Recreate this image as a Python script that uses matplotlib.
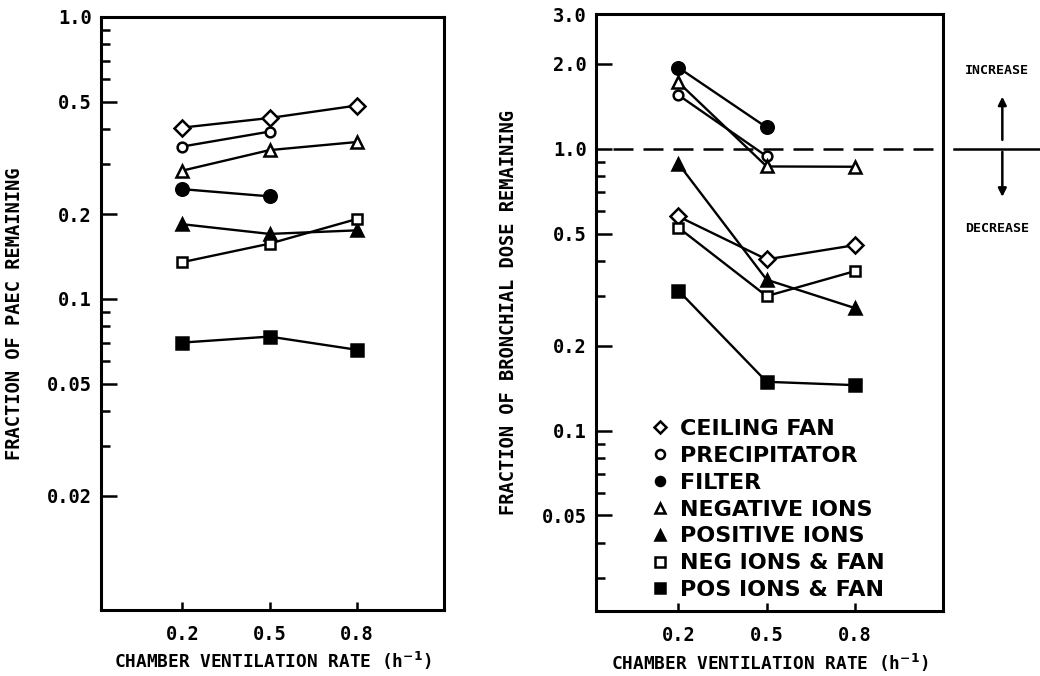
import numpy as np
import matplotlib
matplotlib.use('Agg')
import matplotlib.pyplot as plt
from matplotlib.lines import Line2D

# ventilation rates (h^-1)
rates = [0.2, 0.5, 0.8]

series_names = ['CEILING FAN', 'PRECIPITATOR', 'FILTER', 'NEGATIVE IONS',
                'POSITIVE IONS', 'NEG IONS & FAN', 'POS IONS & FAN']

# left panel: fraction of PAEC remaining
paec_ceiling_fan = [0.405, 0.438, 0.485]
paec_precipitator = [0.347, 0.392]
paec_filter = [0.245, 0.231]
paec_neg_ions = [0.285, 0.337, 0.360]
paec_pos_ions = [0.184, 0.170, 0.175]
paec_neg_fan = [0.135, 0.157, 0.192]
paec_pos_fan = [0.070, 0.0735, 0.066]

# right panel: fraction of bronchial dose remaining
dose_ceiling_fan = [0.575, 0.405, 0.455]
dose_precipitator = [1.55, 0.94]
dose_filter = [1.94, 1.19]
dose_neg_ions = [1.72, 0.865, 0.863]
dose_pos_ions = [0.885, 0.343, 0.272]
dose_neg_fan = [0.525, 0.300, 0.368]
dose_pos_fan = [0.314, 0.149, 0.145]

left_ticks = [1.0, 0.5, 0.2, 0.1, 0.05, 0.02]
left_ticklabels = ['1.0', '0.5', '0.2', '0.1', '0.05', '0.02']
right_ticks = [3.0, 2.0, 1.0, 0.5, 0.2, 0.1, 0.05]
right_ticklabels = ['3.0', '2.0', '1.0', '0.5', '0.2', '0.1', '0.05']
minor_ticks = [0.9, 0.8, 0.7, 0.6, 0.4, 0.3, 0.09, 0.08, 0.07, 0.06, 0.04, 0.03]

# marker, filled?
styles = [('D', False), ('o', False), ('o', True), ('^', False),
          ('^', True), ('s', False), ('s', True)]
msizes = [8, 7, 9, 8, 9, 7.5, 8]

MONO = 'DejaVu Sans Mono'


def draw_series(ax, data):
    for vals, (mk, filled), ms in zip(data, styles, msizes):
        x = rates[:len(vals)]
        ax.plot(x, vals, color='black', lw=1.7, marker=mk, ms=ms,
                mfc='black' if filled else 'white', mec='black', mew=1.8,
                zorder=3)


def style_axes(ax, ylim, ticks, labels, ylabel):
    ax.set_yscale('log')
    ax.set_ylim(*ylim)
    ax.set_xlim(-0.08, 1.1)
    ax.set_yticks(ticks)
    ax.set_yticklabels(labels)
    ax.set_yticks([m for m in minor_ticks if ylim[0] < m < ylim[1]], minor=True)
    ax.yaxis.set_minor_formatter(plt.NullFormatter())
    ax.set_xticks(rates)
    ax.set_xticklabels(['0.2', '0.5', '0.8'])
    for s in ax.spines.values():
        s.set_linewidth(2.2)
    ax.tick_params(axis='y', which='major', direction='in', length=11.5,
                   width=1.8, pad=6.5, labelsize=13.5)
    ax.tick_params(axis='y', which='minor', direction='in', length=6.5, width=1.8)
    ax.tick_params(axis='x', direction='in', length=6, width=1.8, pad=11,
                   labelsize=13.5)
    ax.tick_params(right=False, top=False)
    for lab in ax.get_xticklabels() + ax.get_yticklabels():
        lab.set_family(MONO)
        lab.set_fontweight('bold')
    ax.set_ylabel(ylabel, family=MONO, fontweight='bold', fontsize=13.5)
    ax.set_xlabel(r'CHAMBER VENTILATION RATE (h$^{\mathbf{-1}}$)', family=MONO,
                  fontweight='bold', fontsize=12.8)
    ax.xaxis.label.set_va('center')
    ax.yaxis.set_label_coords(-0.225, 0.5)
    ax.xaxis.set_label_coords(0.5, -0.087)


fig = plt.figure(figsize=(10.4, 6.76), dpi=100)
ax1 = fig.add_axes([0.097, 0.098, 0.330, 0.877])
ax2 = fig.add_axes([0.573, 0.096, 0.334, 0.883])

draw_series(ax1, [paec_ceiling_fan, paec_precipitator, paec_filter, paec_neg_ions,
                  paec_pos_ions, paec_neg_fan, paec_pos_fan])
style_axes(ax1, (0.0079, 1.0), left_ticks, left_ticklabels,
           'FRACTION OF PAEC REMAINING')

draw_series(ax2, [dose_ceiling_fan, dose_precipitator, dose_filter, dose_neg_ions,
                  dose_pos_ions, dose_neg_fan, dose_pos_fan])
style_axes(ax2, (0.0229, 3.0), right_ticks, right_ticklabels,
           'FRACTION OF BRONCHIAL DOSE REMAINING')

# reference line at 1.0 and the increase/decrease note
ax2.plot([0.05, 1.0], [1.0, 1.0], transform=ax2.get_yaxis_transform(),
         color='black', lw=1.8, ls=(0, (8, 4)), zorder=2)
ax2.plot([1.03, 1.28], [1.0, 1.0], transform=ax2.get_yaxis_transform(),
         color='black', lw=1.8, clip_on=False)
ax2.annotate('', xy=(1.17, 1.53), xytext=(1.17, 1.075),
             xycoords=ax2.get_yaxis_transform(),
             arrowprops=dict(arrowstyle='-|>', color='black', lw=1.8,
                             mutation_scale=12, shrinkA=0, shrinkB=0))
ax2.annotate('', xy=(1.17, 0.675), xytext=(1.17, 0.975),
             xycoords=ax2.get_yaxis_transform(),
             arrowprops=dict(arrowstyle='-|>', color='black', lw=1.8,
                             mutation_scale=12, shrinkA=0, shrinkB=0))
ax2.text(1.155, 1.89, 'INCREASE', transform=ax2.get_yaxis_transform(),
         ha='center', va='center', family=MONO, fontweight='bold', fontsize=9.5)
ax2.text(1.155, 0.52, 'DECREASE', transform=ax2.get_yaxis_transform(),
         ha='center', va='center', family=MONO, fontweight='bold', fontsize=9.5)

handles = [Line2D([], [], ls='none', marker=mk, ms=6.5,
                  mfc='black' if filled else 'white', mec='black', mew=1.8)
           for mk, filled in styles]
leg = ax2.legend(handles, series_names, loc='upper left',
                 bbox_to_anchor=(0.165, 0.322), frameon=False,
                 prop={'family': 'DejaVu Sans', 'weight': 'bold', 'size': 16},
                 handlelength=0.65, handletextpad=0.55, labelspacing=0.31,
                 borderpad=0, borderaxespad=0)

plt.savefig('out.png', dpi=100)
